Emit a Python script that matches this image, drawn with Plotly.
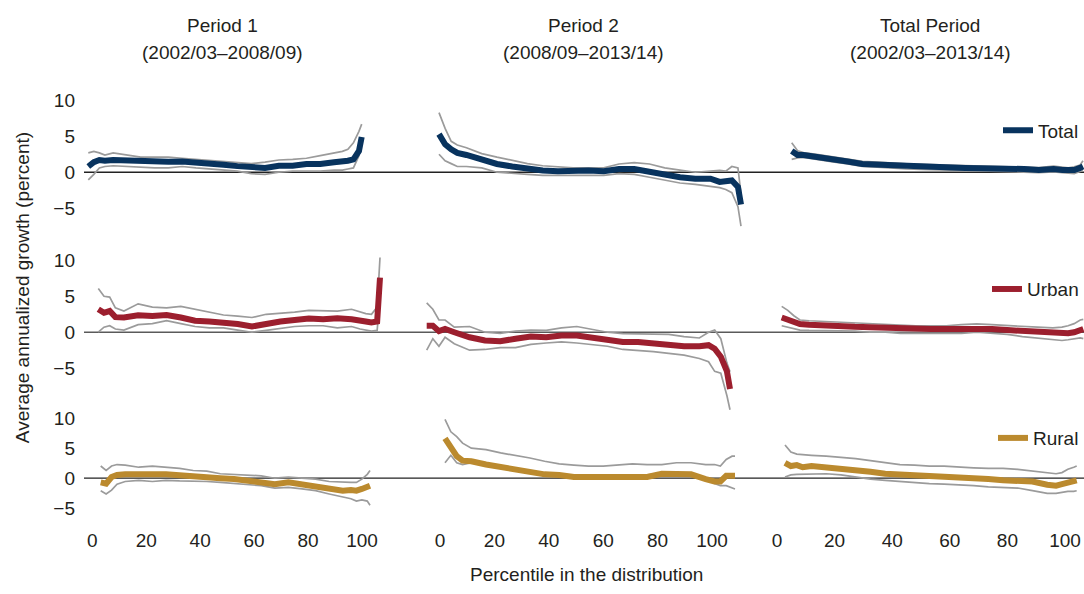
import plotly.graph_objects as go

# ---------------- data ----------------
pct = [1, 3, 5, 7, 10, 15, 20, 25, 30, 35, 40, 45, 50, 55, 60, 65, 70, 75, 80, 85, 90, 93, 95, 97, 99, 100]

column_titles = [("Period 1", "(2002/03–2008/09)"),
                 ("Period 2", "(2008/09–2013/14)"),
                 ("Total Period", "(2002/03–2013/14)")]
series_names = ["Total", "Urban", "Rural"]

total_p1 = [0.8, 1.4, 1.7, 1.6, 1.7, 1.6, 1.45, 1.45, 1.45, 1.5, 1.4, 1.15, 1.05, 0.85, 0.7, 0.6, 0.9, 0.9, 1.15, 1.15, 1.4, 1.45, 1.6, 1.8, 2.95, 4.9]
total_p1_hi = [2.7, 2.9, 2.7, 2.4, 2.7, 2.4, 2.1, 2.1, 2.1, 1.95, 1.8, 1.6, 1.5, 1.4, 1.2, 1.4, 1.7, 1.8, 1.95, 2.3, 2.7, 2.9, 3.2, 4.1, 5.7, 6.7]
total_p1_lo = [-1.05, -0.3, 0.6, 0.8, 0.9, 0.8, 0.6, 0.6, 0.6, 0.8, 0.6, 0.45, 0.3, 0.15, -0.2, -0.3, 0, 0.15, 0.15, 0.15, 0.3, 0.3, 0.45, 0.6, 2.3, 4.5]

total_p2 = [5.3, 3.9, 3.2, 2.7, 2.4, 1.8, 1.15, 0.8, 0.45, 0.25, 0.15, 0.25, 0.25, 0.15, 0.45, 0.45, 0, -0.3, -0.7, -0.9, -0.9, -1.35, -1.15, -1.15, -2.05, -4.5]
total_p2_hi = [8.3, 6.1, 4.3, 3.8, 3.4, 2.6, 2.1, 1.6, 1.2, 0.9, 0.7, 0.6, 0.6, 0.6, 1.15, 1.35, 1.15, 0.6, 0.3, 0, 0.15, 0.25, 0.15, 0.8, 0.6, -3.0]
total_p2_lo = [2.5, 1.6, 1.2, 0.8, 0.8, 0.6, 0, -0.2, -0.3, -0.45, -0.45, -0.45, -0.45, -0.45, -0.2, -0.3, -0.7, -1.15, -1.5, -1.7, -1.95, -2.15, -2.4, -2.85, -4.8, -7.5]

total_tp = [2.95, 2.4, 2.4, 2.3, 2.1, 1.8, 1.5, 1.15, 1.05, 0.9, 0.8, 0.75, 0.7, 0.6, 0.6, 0.55, 0.55, 0.45, 0.45, 0.3, 0.45, 0.3, 0.25, 0.3, 0.6, 0.8]
total_tp_hi = [4.1, 3.0, 2.75, 2.6, 2.45, 2.15, 1.85, 1.5, 1.4, 1.25, 1.15, 1.1, 1.05, 0.95, 0.95, 0.9, 0.9, 0.8, 0.8, 0.65, 0.85, 0.7, 0.6, 0.75, 1.0, 1.6]
total_tp_lo = [1.8, 2.0, 2.05, 1.95, 1.75, 1.45, 1.15, 0.8, 0.7, 0.55, 0.45, 0.4, 0.35, 0.25, 0.25, 0.2, 0.2, 0.1, 0.1, -0.05, 0.05, -0.1, -0.15, -0.2, 0.1, 0.2]

urban_p1 = [3.2, 2.7, 2.95, 2.1, 2.05, 2.35, 2.25, 2.4, 2.05, 1.6, 1.5, 1.35, 1.15, 0.8, 1.25, 1.5, 1.7, 1.9, 1.8, 1.95, 1.8, 1.5, 1.5, 1.35, 1.5, 7.6]
urban_p1_hi = [6.1, 5.0, 4.9, 3.4, 2.95, 3.95, 3.5, 3.4, 3.6, 3.2, 2.7, 2.4, 2.25, 2.05, 2.5, 2.6, 2.8, 3.05, 2.95, 2.95, 3.2, 2.85, 2.6, 2.5, 3.5, 10.4]
urban_p1_lo = [0, 0.7, 0.9, 0.45, 0.3, 1.05, 1.2, 1.6, 1.2, 0.8, 0.6, 0.6, 0.3, 0, 0.25, 0.55, 0.8, 0.9, 0.9, 0.6, 0.8, 0.45, 0.25, 0.15, 0.25, 4.8]

urban_p2 = [0.9, 0.9, 0.15, 0.45, 0, -0.7, -1.15, -1.25, -0.9, -0.6, -0.7, -0.45, -0.45, -0.8, -1.15, -1.35, -1.35, -1.6, -1.7, -1.95, -1.95, -1.8, -2.3, -3.4, -5.45, -7.9]
urban_p2_hi = [4.1, 3.2, 1.7, 1.7, 0.7, 0.8, 0, -0.15, 0.15, 0.3, 0.25, 0.6, 0.8, 0.45, 0, -0.2, -0.2, -0.3, -0.3, -0.6, -0.8, 0, 0.3, -0.9, -4.3, -5.5]
urban_p2_lo = [-2.5, -0.9, -1.95, -0.7, -1.6, -2.5, -2.4, -2.15, -2.15, -1.7, -1.5, -1.35, -1.5, -1.7, -1.95, -2.4, -2.5, -2.7, -2.95, -3.2, -3.65, -4.1, -5.45, -5.7, -8.85, -10.8]

urban_tp = [2.05, 1.7, 1.35, 1.15, 1.05, 0.9, 0.75, 0.75, 0.7, 0.6, 0.55, 0.45, 0.45, 0.45, 0.45, 0.55, 0.45, 0.3, 0.15, 0, -0.15, -0.2, -0.15, 0, 0.3, 0.45]
urban_tp_hi = [3.6, 3.05, 2.3, 1.7, 1.6, 1.5, 1.35, 1.35, 1.2, 1.15, 1.05, 0.9, 0.9, 0.9, 1.05, 1.15, 1.05, 0.9, 0.75, 0.7, 0.6, 0.7, 0.9, 1.2, 1.7, 1.8]
urban_tp_lo = [0.9, 0.7, 0.45, 0.3, 0.25, 0.25, 0.15, 0.15, 0, 0, -0.15, -0.15, -0.15, -0.15, -0.15, 0, -0.15, -0.3, -0.6, -0.8, -1.05, -1.15, -1.05, -0.9, -0.8, -0.9]

rural_p1 = [-0.7, -0.9, 0.2, 0.55, 0.65, 0.75, 0.65, 0.65, 0.55, 0.4, 0.2, 0, -0.15, -0.35, -0.55, -1, -0.7, -1.1, -1.45, -1.8, -2.1, -2, -2.1, -1.8, -1.45, -1.25]
rural_p1_hi = [2.05, 1.3, 2.05, 2.3, 2.2, 1.85, 2.05, 1.85, 1.65, 1.3, 1.2, 0.75, 0.65, 0.55, 0.4, 0, 0.2, 0, -0.15, -0.55, -0.7, -0.7, -0.7, -0.15, 0.65, 1.3]
rural_p1_lo = [-2.1, -2.65, -2, -1, -0.55, -0.35, -0.55, -0.35, -0.45, -0.45, -0.55, -0.7, -0.9, -1, -1.25, -1.65, -1.55, -1.8, -2.1, -2.65, -3.2, -3.45, -3.85, -3.65, -3.85, -4.55]

rural_p2 = [6.7, 5.05, 3.7, 2.95, 2.85, 2.3, 1.85, 1.5, 1.1, 0.65, 0.55, 0.2, 0.2, 0.2, 0.4, 0.4, 0.2, 0.75, 0.65, 0.65, -0.15, -0.55, -0.55, 0.4, 0.4, 0.4]
rural_p2_hi = [9.9, 7.8, 7.0, 5.9, 5.05, 4.8, 4.25, 3.85, 3.4, 2.85, 2.4, 2.2, 2.05, 2.05, 2.2, 2.4, 2.3, 2.3, 2.6, 2.6, 2.3, 2.3, 2.05, 3.15, 3.7, 3.7]
rural_p2_lo = [2.6, 3.85, 2.6, 2.3, 2.6, 2.05, 1.65, 1.3, 0.95, 0.55, 0.55, 0.4, 0.4, 0.4, 0.55, 0.55, 0.55, 0.75, 0.55, 0.75, 0.1, -0.9, -1.25, -1.25, -1.65, -1.8]

rural_tp = [2.6, 2.05, 2.2, 1.85, 2.05, 1.85, 1.75, 1.3, 1.1, 0.75, 0.65, 0.4, 0.2, 0.2, 0, 0, -0.15, -0.35, -0.35, -0.55, -1.1, -1.25, -1, -0.7, -0.55, -0.35]
rural_tp_hi = [5.6, 4.4, 4.05, 3.95, 3.85, 3.7, 3.5, 3.3, 2.95, 2.6, 2.3, 2.2, 2.05, 2.05, 1.85, 1.75, 1.65, 1.65, 1.5, 1.2, 0.95, 0.75, 0.95, 1.5, 1.85, 2.05]
rural_tp_lo = [0.2, 0.55, 0.65, 0.65, 0.75, 0.75, 0.55, 0.2, -0.15, -0.35, -0.55, -0.7, -0.9, -1, -1.1, -1.25, -1.45, -1.55, -1.65, -2.1, -2.55, -2.55, -2.35, -2.2, -2.2, -2.1]

y_tick_vals = [-5, 0, 5, 10]
y_tick_text = ["−5", "0", "5", "10"]
x_tick_vals = [0, 20, 40, 60, 80, 100]

# ---------------- styling / layout ----------------
W, H = 1084, 594
FONT = "Liberation Sans, Arial, Helvetica, sans-serif"
TXT = "#231f20"
CI_COLOR = "#9b9b9b"
colors = ["#08335e", "#9c1f2e", "#bb8a2e"]

rows = [
    [(total_p1, total_p1_hi, total_p1_lo), (total_p2, total_p2_hi, total_p2_lo), (total_tp, total_tp_hi, total_tp_lo)],
    [(urban_p1, urban_p1_hi, urban_p1_lo), (urban_p2, urban_p2_hi, urban_p2_lo), (urban_tp, urban_tp_hi, urban_tp_lo)],
    [(rural_p1, rural_p1_hi, rural_p1_lo), (rural_p2, rural_p2_hi, rural_p2_lo), (rural_tp, rural_tp_hi, rural_tp_lo)],
]

# pixel geometry of panels
col_dom_px = [(84, 395), (405, 755), (760, 1084)]
# where the first/last percentile of each panel is drawn (px)
panel_x_px = [
    [(88.3, 361.7), (439, 741), (791.7, 1083)],
    [(98.3, 380), (426.7, 730), (781.7, 1083.3)],
    [(100.7, 370), (445, 735), (785, 1076.7)],
]
# row: (zero px, px per unit, lo, hi)
row_geom = [(171.7, 7.33, -8, 11), (335, 7.33, -11, 11), (484, 6.07, -5.5, 11)]
# bottom tick-label axes: px of 0 and 100
label_px = [(92.3, 362), (440, 712), (777, 1065)]
zero_line_colors = ["#222222", "#5a5a5a", "#222222"]


def ydomain(zero, ppu, lo, hi):
    top = zero - hi * ppu
    bot = zero - lo * ppu
    return [1 - bot / H, 1 - top / H]


def xrange_for(d0, d1, a, b, v0, v1):
    s = (b - a) / (v1 - v0)
    return [v0 - (a - d0) / s, v1 + (d1 - b) / s]


fig = go.Figure()
layout = {}
legend_ids = ["legend", "legend2", "legend3"]
legend_y_px = [129, 291, 443]

for r in range(3):
    for c in range(3):
        i = r * 3 + c + 1
        xa = "x" if i == 1 else f"x{i}"
        ya = "y" if i == 1 else f"y{i}"
        main, hi, lo = rows[r][c]
        for band in (hi, lo):
            fig.add_trace(go.Scatter(x=pct, y=band, mode="lines", xaxis=xa, yaxis=ya,
                                     line=dict(color=CI_COLOR, width=1.7),
                                     showlegend=False, hoverinfo="skip"))
        fig.add_trace(go.Scatter(x=pct, y=main, mode="lines", xaxis=xa, yaxis=ya,
                                 name=series_names[r],
                                 line=dict(color=colors[r], width=6),
                                 showlegend=(c == 2), legend=legend_ids[r]))
        d0, d1 = col_dom_px[c]
        a, b = panel_x_px[r][c]
        layout["xaxis" if i == 1 else f"xaxis{i}"] = dict(
            domain=[d0 / W, d1 / W], range=xrange_for(d0, d1, a, b, pct[0], pct[-1]),
            visible=False, anchor=ya)
        zero, ppu, lo_, hi_ = row_geom[r]
        yax = dict(domain=ydomain(zero, ppu, lo_, hi_), range=[lo_, hi_],
                   showgrid=False, zeroline=False, showline=False, anchor=xa)
        if c == 0:
            yax.update(tickmode="array", tickvals=y_tick_vals, ticktext=y_tick_text,
                       ticks="", ticklabelstandoff=8,
                       tickfont=dict(family=FONT, size=19, color=TXT))
        else:
            yax.update(visible=False)
        layout["yaxis" if i == 1 else f"yaxis{i}"] = yax

# bottom percentile tick-label axes (overlaying the bottom-row panels)
for c in range(3):
    j = 10 + c
    base = 7 + c
    d0, d1 = col_dom_px[c]
    a, b = label_px[c]
    fig.add_trace(go.Scatter(x=[], y=[], xaxis=f"x{j}", yaxis=f"y{base}",
                             showlegend=False, hoverinfo="skip"))
    layout[f"xaxis{j}"] = dict(domain=[d0 / W, d1 / W], overlaying=f"x{base}", anchor=f"y{base}",
                               side="bottom", range=xrange_for(d0, d1, a, b, 0, 100),
                               tickmode="array", tickvals=x_tick_vals, ticks="",
                               ticklabelstandoff=16, showgrid=False, zeroline=False, showline=False,
                               tickfont=dict(family=FONT, size=19, color=TXT))

shapes = []
for r in range(3):
    ya = "y" if r == 0 else f"y{r * 3 + 1}"
    shapes.append(dict(type="line", xref="paper", yref=ya, x0=84 / W, x1=1, y0=0, y1=0,
                       line=dict(color=zero_line_colors[r], width=1.3), layer="below"))

annotations = []
col_title_px = [222, 583, 930]
for c in range(3):
    for line_text, ypx in zip(column_titles[c], (22, 50)):
        annotations.append(dict(text=line_text, x=col_title_px[c] / W, y=1 - ypx / H,
                                xref="paper", yref="paper", xanchor="center", yanchor="middle",
                                showarrow=False, font=dict(family=FONT, size=19, color=TXT)))
annotations.append(dict(text="Average annualized growth (percent)", x=22 / W, y=1 - 290 / H,
                        xref="paper", yref="paper", textangle=-90, showarrow=False,
                        xanchor="center", yanchor="middle",
                        font=dict(family=FONT, size=19, color=TXT)))
annotations.append(dict(text="Percentile in the distribution", x=586 / W, y=1 - 582 / H,
                        xref="paper", yref="paper", showarrow=False,
                        xanchor="center", yanchor="middle",
                        font=dict(family=FONT, size=19, color=TXT)))

for k, lid in enumerate(legend_ids):
    layout[lid] = dict(x=1, xanchor="right", y=1 - legend_y_px[k] / H, yanchor="middle",
                       bgcolor="rgba(0,0,0,0)", itemwidth=30,
                       font=dict(family=FONT, size=19, color=TXT))

fig.update_layout(
    width=W, height=H, margin=dict(l=0, r=0, t=0, b=0),
    paper_bgcolor="white", plot_bgcolor="white",
    font=dict(family=FONT, size=19, color=TXT),
    shapes=shapes, annotations=annotations, showlegend=True,
    **layout,
)

# remove the browser's default 8px page margin so the figure fills the window
fig.write_html("out.html", config={"displayModeBar": False},
               post_script="document.body.style.margin='0px';")
